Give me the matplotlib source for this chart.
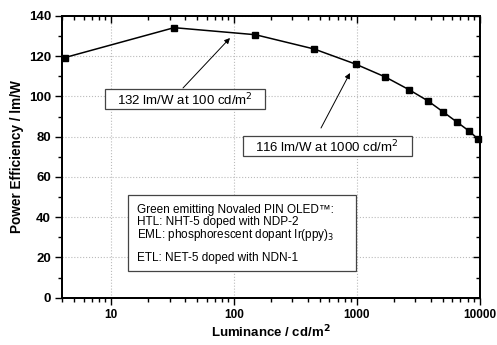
import matplotlib
matplotlib.use("Agg")
import matplotlib.pyplot as plt
from matplotlib.ticker import LogLocator, MultipleLocator, FixedLocator, NullFormatter
from matplotlib.patches import Rectangle

luminance = [4.2, 32.7, 150, 451, 980, 1711, 2666, 3784, 5070, 6550, 8200, 9800]
efficiency = [119.3, 134.2, 130.7, 123.6, 116.1, 109.7, 103.4, 97.9, 92.3, 87.3, 82.9, 78.7]
xticks = [10, 100, 1000, 10000]
xticklabels = ["10", "100", "1000", "10000"]
yticks = [0, 20, 40, 60, 80, 100, 120, 140]

W, H = 497, 345
fig = plt.figure(figsize=(W / 100, H / 100), dpi=100)
plt.rcParams['font.family'] = ['Liberation Sans', 'DejaVu Sans']

L, R, T, B = 62, 479.5, 16, 297.7
ax = fig.add_axes([L / W, 1 - B / H, (R - L) / W, (B - T) / H])
ax.set_xscale('log')
ax.set_xlim(4.0, 10000)
ax.set_ylim(0, 140)

ax.plot(luminance, efficiency, color='black', lw=1.1, marker='s', ms=5,
        mfc='black', mec='black', clip_on=False, zorder=5)

ax.xaxis.set_major_locator(FixedLocator(xticks))
ax.set_xticklabels(xticklabels)
ax.xaxis.set_minor_locator(LogLocator(base=10, subs=range(2, 10)))
ax.xaxis.set_minor_formatter(NullFormatter())
ax.yaxis.set_major_locator(FixedLocator(yticks))
ax.yaxis.set_minor_locator(MultipleLocator(10))

for lab in ax.get_xticklabels():
    lab.set_fontweight('bold')
    lab.set_fontsize(8.5)
for lab in ax.get_yticklabels():
    lab.set_fontweight('bold')
    lab.set_fontsize(9.5)

ax.tick_params(which='major', length=5, width=1, direction='out', top=False, right=False, pad=3)
ax.tick_params(which='minor', length=3, width=1, direction='out', top=False, right=False)

axt = ax.twiny()
axt.set_xscale('log')
axt.set_xlim(ax.get_xlim())
axt.xaxis.set_major_locator(FixedLocator(xticks))
axt.xaxis.set_minor_locator(LogLocator(base=10, subs=range(2, 10)))
axt.tick_params(which='major', direction='in', length=5, width=1, labeltop=False)
axt.tick_params(which='minor', direction='in', length=3, width=1, labeltop=False)
axr = ax.twinx()
axr.set_ylim(ax.get_ylim())
axr.yaxis.set_major_locator(FixedLocator(yticks))
axr.yaxis.set_minor_locator(MultipleLocator(10))
axr.tick_params(which='major', direction='in', length=5, width=1, labelright=False)
axr.tick_params(which='minor', direction='in', length=3, width=1, labelright=False)

for a in (ax, axt, axr):
    for s in a.spines.values():
        s.set_linewidth(1.2)

ax.grid(True, which='major', color='#bbbbbb', ls=':', lw=0.8)
ax.set_axisbelow(True)

ax.set_xlabel('Luminance / cd/m$^\\mathbf{2}$', fontsize=9.5, fontweight='bold', va='center')
ax.xaxis.set_label_coords(0.5, (B - 332) / (B - T))
ax.set_ylabel('Power Efficiency / lm/W', fontsize=9.8, fontweight='bold', va='center')
ax.yaxis.set_label_coords((17 - L) / (R - L), 0.5)

def px(x, y):
    return (x / W, 1 - y / H)

def box(x0p, y0p, x1p, y1p):
    x0, y0 = px(x0p, y1p)
    x1, y1 = px(x1p, y0p)
    fig.patches.append(Rectangle((x0, y0), x1 - x0, y1 - y0, transform=fig.transFigure,
                                 fc='white', ec='#444444', lw=0.9, zorder=3))

arrow = dict(arrowstyle='-|>', color='black', lw=0.7, mutation_scale=8, shrinkA=0, shrinkB=0)
ax.annotate('', xy=px(230, 38), xycoords='figure fraction',
            xytext=px(183, 88), textcoords='figure fraction', arrowprops=arrow)
ax.annotate('', xy=px(350, 73), xycoords='figure fraction',
            xytext=px(321, 128), textcoords='figure fraction', arrowprops=arrow)

box(105, 89, 265, 109)
fig.text(185 / W, 1 - 99.5 / H, '132 lm/W at 100 cd/m$^2$', fontsize=9.5, ha='center', va='center', zorder=4)
box(243, 136, 412, 156)
fig.text(327 / W, 1 - 146.5 / H, '116 lm/W at 1000 cd/m$^2$', fontsize=9.5, ha='center', va='center', zorder=4)

box(128, 195, 356, 271)
lines = ['Green emitting Novaled PIN OLED\u2122:',
         'HTL: NHT-5 doped with NDP-2',
         'EML: phosphorescent dopant Ir(ppy)$_3$',
         'ETL: NET-5 doped with NDN-1']
ys = [209.5, 222.5, 235, 258]
for t, yy in zip(lines, ys):
    fig.text(137 / W, 1 - yy / H, t, fontsize=8.5, ha='left', va='center', zorder=4)

fig.savefig('out.png', dpi=100)
